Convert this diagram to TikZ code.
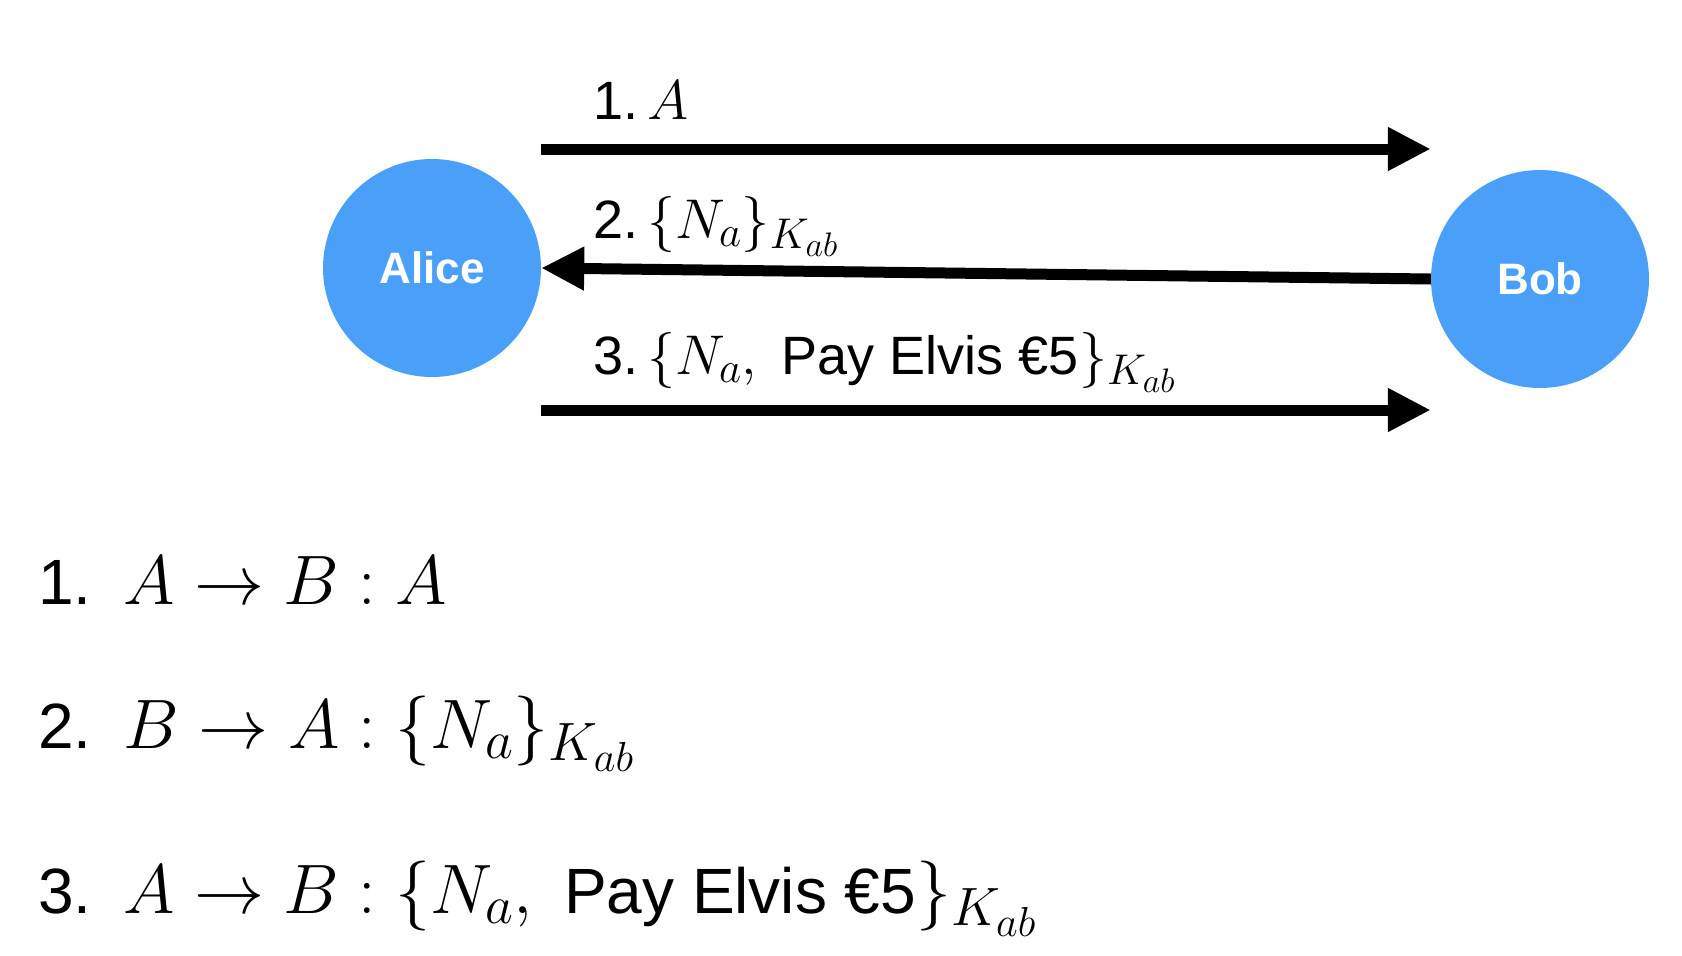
\RequirePackage{fix-cm}
\documentclass[tikz,border=0pt]{standalone}
\usepackage{fontspec}
\setmainfont{Liberation Sans}
\usetikzlibrary{arrows.meta}
\definecolor{agentblue}{RGB}{74,160,248}
\DeclareMathSizes{54}{56}{43}{34}
\DeclareMathSizes{64}{70}{54}{42}

\begin{document}
\begin{tikzpicture}[x=1pt,y=-1pt,
    agent/.style={circle,fill=agentblue,minimum size=218pt,inner sep=0pt,text=white,font=\fontsize{44}{50}\selectfont\bfseries},
    msg/.style={line width=11pt,-{Triangle[length=43pt,width=41pt]}},
    lbl/.style={anchor=base west,inner sep=0pt,font=\fontsize{54}{60}\selectfont},
    rule/.style={anchor=base west,inner sep=0pt,font=\fontsize{64}{70}\selectfont}]
            \useasboundingbox (0,0) rectangle (1682,956);
            \node[agent] (alice) at (432,268) {Alice};
            \node[agent] (bob) at (1540,279) {Bob};
            \draw[msg] ([yshift=119pt]alice.east) -- ([yshift=130pt]bob.west);
            \draw[msg] (bob.west) -- (alice.east);
            \draw[msg] ([yshift=-142pt]alice.east) -- ([yshift=-131pt]bob.west);
            \node[lbl] (m1) at (593,119) {1.\,$A$};
            \node[lbl] (m2) at (593,238) {2.\,$\{N_a\}_{K_{ab}}$};
            \node[lbl] (m3) at (593,374) {3.\,$\{N_a,\;\mbox{Pay Elvis €5}\}_{K_{ab}}$};
            \node[rule] (r1) at (38,604) {1.\enspace$A\rightarrow B : A$};
            \node[rule] (r2) at (38,748) {2.\enspace$B\rightarrow A : \{N_a\}_{K_{ab}}$};
            \node[rule] (r3) at (38,913) {3.\enspace$A\rightarrow B : \{N_a,\;\mbox{Pay Elvis €5}\}_{K_{ab}}$};
        \end{tikzpicture}
\end{document}
